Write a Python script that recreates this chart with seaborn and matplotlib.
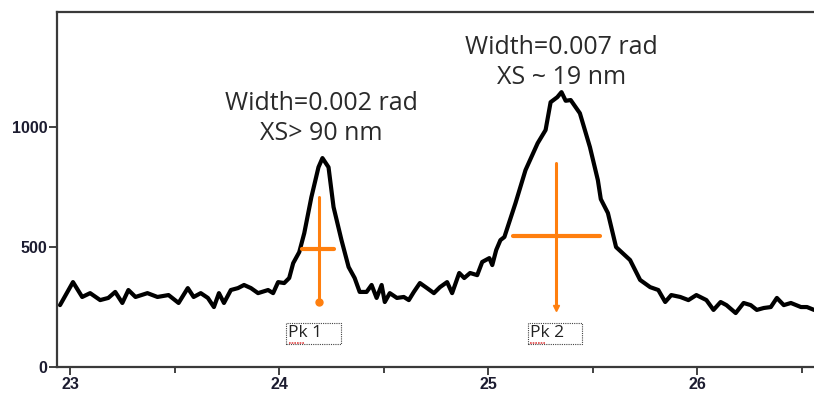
import matplotlib
matplotlib.use("Agg")
import matplotlib.pyplot as plt
from matplotlib.patches import Rectangle
import seaborn as sns
import pandas as pd

# diffractogram (2-theta, counts)
two_theta = [22.952, 23.014, 23.058, 23.096, 23.144, 23.183, 23.216, 23.25, 23.279, 23.313,
             23.37, 23.418, 23.471, 23.519, 23.563, 23.591, 23.625, 23.659, 23.688, 23.712,
             23.736, 23.769, 23.803, 23.832, 23.865, 23.899, 23.947, 23.971, 23.995, 24.024,
             24.048, 24.067, 24.096, 24.12, 24.154, 24.188, 24.207, 24.236, 24.26, 24.298,
             24.332, 24.361, 24.385, 24.418, 24.442, 24.466, 24.49, 24.505, 24.529, 24.563,
             24.596, 24.62, 24.644, 24.673, 24.707, 24.74, 24.769, 24.803, 24.827, 24.861,
             24.885, 24.913, 24.947, 24.971, 25.005, 25.019, 25.038, 25.058, 25.077, 25.13,
             25.178, 25.236, 25.274, 25.298, 25.33, 25.35, 25.37, 25.394, 25.438, 25.486,
             25.524, 25.538, 25.572, 25.611, 25.678, 25.726, 25.774, 25.813, 25.846, 25.875,
             25.918, 25.957, 25.995, 26.043, 26.077, 26.111, 26.139, 26.183, 26.221, 26.255,
             26.284, 26.317, 26.351, 26.38, 26.413, 26.447, 26.495, 26.524, 26.558, 26.587]
counts = [258, 354, 292, 308, 279, 288, 313, 267, 321, 292,
          308, 292, 300, 267, 329, 292, 308, 288, 250, 308,
          267, 321, 329, 342, 329, 308, 321, 308, 354, 350,
          371, 433, 479, 558, 708, 833, 871, 833, 667, 529,
          417, 371, 313, 313, 342, 288, 342, 271, 308, 288,
          292, 279, 313, 350, 329, 308, 333, 354, 308, 392,
          371, 392, 383, 438, 454, 425, 488, 529, 542, 683,
          821, 933, 988, 1104, 1125, 1146, 1110, 1113, 1058, 917,
          779, 700, 642, 500, 446, 363, 333, 321, 271, 300,
          292, 279, 300, 279, 238, 271, 258, 225, 267, 258,
          238, 246, 250, 288, 258, 267, 250, 250, 238, 242]

# peak markers: centre, vertical span, half-height and its width
pk_names = ["Pk 1", "Pk 2"]
pk_center = [24.192, 25.322]
pk_top = [708, 850]
pk_bottom = [271, 246]
pk_half = [492, 546]
pk_left = [24.111, 25.12]
pk_right = [24.264, 25.534]
pk_text = ["Width=0.002 rad\nXS> 90 nm", "Width=0.007 rad\nXS ~ 19 nm"]

df = pd.DataFrame({"two_theta": two_theta, "counts": counts})

sns.set_theme(style="white")
plt.rcParams["font.family"] = ["Liberation Sans", "DejaVu Sans"]

fig = plt.figure(figsize=(8.14, 3.94), dpi=100)
ax = fig.add_axes([0.070, 0.0685, 0.935, 0.901])

sns.lineplot(data=df, x="two_theta", y="counts", color="black", lw=3, ax=ax)

orange = "#FF7F0E"
for i in range(2):
    ax.plot([pk_center[i], pk_center[i]], [pk_top[i], pk_bottom[i]], color=orange, lw=2.2)
    ax.plot([pk_left[i], pk_right[i]], [pk_half[i], pk_half[i]], color=orange, lw=3)
    mk = "o" if i == 0 else "v"
    ax.plot([pk_center[i]], [pk_bottom[i]], marker=mk, color=orange, ms=5)

# width / crystallite size notes
ax.text(24.2, 1035, pk_text[0], ha="center", va="center", fontsize=18,
        family="Open Sans", color="#2a2a2a", linespacing=1.25)
ax.text(25.35, 1270, pk_text[1], ha="center", va="center", fontsize=18,
        family="Open Sans", color="#2a2a2a", linespacing=1.25)

# dotted label boxes
box_x = [24.034, 25.188]
for i in range(2):
    ax.add_patch(Rectangle((box_x[i], 96), 0.262, 87, fill=False, ls=(0, (1, 1)),
                           lw=0.8, edgecolor="#444444"))
    ax.text(box_x[i] + 0.01, 140, pk_names[i], ha="left", va="center", fontsize=12.5,
            family="Open Sans", color="#222222")
    ax.plot([box_x[i] + 0.012, box_x[i] + 0.085], [102, 102], color="#e04848", lw=1.2,
            ls=(0, (1, 0.6)))

ax.set_xlim(22.9375, 26.577)
ax.set_ylim(0, 1480)
ax.set_xticks([23, 24, 25, 26])
ax.set_xticks([23.5, 24.5, 25.5, 26.5], minor=True)
ax.set_yticks([0, 500, 1000])
ax.set_xlabel("")
ax.set_ylabel("")
ax.tick_params(axis="both", which="major", direction="out", length=6, width=1.3,
               color="#333333", labelsize=11.5, labelcolor="#1c1c30", pad=1, bottom=True, left=True)
ax.tick_params(axis="x", which="minor", direction="out", length=4, width=1.3,
               color="#333333", bottom=True)
for lbl in ax.get_xticklabels() + ax.get_yticklabels():
    lbl.set_fontweight("bold")

for side in ["left", "bottom", "top"]:
    ax.spines[side].set_color("#3a3a3a")
    ax.spines[side].set_linewidth(1.6)
ax.spines["right"].set_visible(False)

fig.savefig("out.png", dpi=100)
